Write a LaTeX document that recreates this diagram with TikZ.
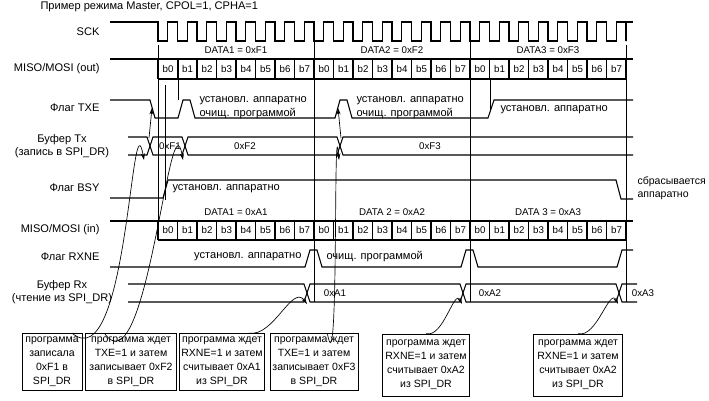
\documentclass[tikz,border=0pt]{standalone}
\usepackage{fontspec}
\setmainfont{Liberation Sans}
\usetikzlibrary{arrows.meta}
\begin{document}
\begin{tikzpicture}[x=0.75pt,y=-0.75pt,line width=0.8pt,
  lbl/.style={font=\fontsize{8.3}{10}\selectfont,inner sep=0pt},
  sm/.style={font=\fontsize{7.3}{9}\selectfont,inner sep=0pt},
  thin/.style={line width=0.45pt},
  box/.style={draw,line width=0.6pt,align=center,inner sep=0.5pt,font=\fontsize{7.9}{10.6}\selectfont},
  arr/.style={line width=0.5pt,-{Stealth[length=5pt,width=3pt]}}]
\useasboundingbox (0,0) rectangle (709,400);
\fill[white] (0,0) rectangle (709,400);
\node[lbl,anchor=west] (title) at (40,7) {Пример режима Master, CPOL=1, CPHA=1};
% labels
\node[lbl,anchor=east] (lsck) at (100,32) {SCK};
\node[lbl,anchor=east] (lout) at (100,69) {MISO/MOSI (out)};
\node[lbl,anchor=east] (ltxe) at (100,108) {Флаг TXE};
\node[lbl,align=center] (ltx) at (62,146) {Буфер Tx\\(запись в SPI\_DR)};
\node[lbl,anchor=east] (lbsy) at (100,188) {Флаг BSY};
\node[lbl,anchor=east] (lin) at (100,230) {MISO/MOSI (in)};
\node[lbl,anchor=east] (lrx) at (100,257) {Флаг RXNE};
\node[lbl,align=center] (lrxb) at (62,292) {Буфер Rx\\(чтение из SPI\_DR)};
% SCK
\draw (110,22) -- (158,22) -- (158,41)
  \foreach \i in {1,...,24}{ -- ++(9.75,0) -- ++(0,-19) -- ++(9.75,0) -- ++(0,19)}
  -- ++(0,-19) -- ++(7,0);
% vertical guides
\draw[thin] (158,45) -- (158,240);
\draw[thin] (165,85) -- (165,200);
\draw[thin] (178,59) -- (178,100);
\draw[thin] (314,25) -- (314,302);
\draw[thin] (470,25) -- (470,302);
\draw[thin] (490,79) -- (490,110);
\draw[thin] (626,45) -- (626,302);
% bit rows
\foreach \yt/\yb in {59/79, 221/240}{
  \draw (110,\yt) -- (633,\yt);
  \draw (158,\yb) -- (626,\yb);
  \foreach \i in {0,...,24}{\draw (158+\i*19.5,\yt) -- (158+\i*19.5,\yb);}
  \foreach \i in {0,...,23}{
    \pgfmathtruncatemacro\b{mod(\i,8)}
    \node[sm] at (168+\i*19.5,{(\yt+\yb)/2}) {b\b};}
}
\node[sm] (d1) at (236,50) {DATA1 = 0xF1};
\node[sm] (d2) at (392,50) {DATA2 = 0xF2};
\node[sm] (d3) at (548,50) {DATA3 = 0xF3};
\node[sm] (a1) at (236,212) {DATA1 = 0xA1};
\node[sm] (a2) at (392,212) {DATA 2 = 0xA2};
\node[sm] (a3) at (548,212) {DATA 3 = 0xA3};
% TXE
\draw (110,100) -- (150,100) -- (155,118) -- (178,118) -- (183,100) -- (190,100) -- (195,118) -- (335,118) -- (340,100) -- (347,100) -- (352,118) -- (488,118) -- (494,100) -- (633,100);
\node[lbl,anchor=west] (t1) at (199,101) {установл. аппаратно};
\node[lbl,anchor=west] (t2) at (199,114) {очищ. программой};
\node[lbl,anchor=west] (t3) at (356,101) {установл. аппаратно};
\node[lbl,anchor=west] (t4) at (356,114) {очищ. программой};
\node[lbl,anchor=west] (t5) at (500,110) {установл. аппаратно};
% Tx buffer
\draw (128,137) -- (147,137) -- (153,155) -- (182,155) -- (188,137) -- (337,137) -- (343,155) -- (633,155);
\draw (128,155) -- (147,155) -- (153,137) -- (182,137) -- (188,155) -- (337,155) -- (343,137) -- (633,137);
\node[sm] (f1) at (170,146) {0xF1};
\node[sm] (f2) at (245,146) {0xF2};
\node[sm] (f3) at (430,146) {0xF3};
% BSY
\draw (110,198) -- (163,198) -- (168,180) -- (616,180) -- (621,199) -- (633,199);
\node[lbl,anchor=west] (bs1) at (172,189) {установл. аппаратно};
\node[anchor=west,align=left,inner sep=0pt,font=\fontsize{7.9}{10}\selectfont] (bs2) at (637,188) {сбрасывается\\аппаратно};
% RXNE
\draw (110,267) -- (305,267) -- (310,250) -- (317,250) -- (322,267) -- (461,267) -- (466,250) -- (473,250) -- (478,267) -- (617,267) -- (622,250) -- (633,250);
\node[lbl,anchor=east] (r1) at (302,257) {установл. аппаратно};
\node[lbl,anchor=west] (r2) at (326,257) {очищ. программой};
% Rx buffer
\draw (128,284) -- (304,284) -- (310,302) -- (460,302) -- (466,284) -- (616,284) -- (622,302) -- (637,302);
\draw (128,302) -- (304,302) -- (310,284) -- (460,284) -- (466,302) -- (616,302) -- (622,284) -- (637,284);
\node[sm] (x1) at (335,293) {0xA1};
\node[sm] (x2) at (490,293) {0xA2};
\node[sm] (x3) at (643,293) {0xA3};
% boxes
\node[box,minimum width={60*0.75pt},minimum height={57*0.75pt}] (b1) at (52,362) {программа\\записала\\0xF1 в\\SPI\_DR};
\node[box,minimum width={91*0.75pt},minimum height={57*0.75pt}] (b2) at (131,362) {программа ждет\\TXE=1 и затем\\записывает 0xF2\\в SPI\_DR};
\node[box,minimum width={85*0.75pt},minimum height={57*0.75pt}] (b3) at (222,362) {программа ждет\\RXNE=1 и затем\\считывает 0xA1\\из SPI\_DR};
\node[box,minimum width={88*0.75pt},minimum height={57*0.75pt}] (b4) at (314,362) {программа ждет\\TXE=1 и затем\\записывает 0xF3\\в SPI\_DR};
\node[box,minimum width={87*0.75pt},minimum height={62*0.75pt}] (b5) at (426,365) {программа ждет\\RXNE=1 и затем\\считывает 0xA2\\из SPI\_DR};
\node[box,minimum width={89*0.75pt},minimum height={62*0.75pt}] (b6) at (578,365) {программа ждет\\RXNE=1 и затем\\считывает 0xA2\\из SPI\_DR};
% arrow targets
\coordinate (e1) at (144,160);
\coordinate (e1a) at (149,138);
\coordinate (e1b) at (152,108);
\coordinate (e2) at (183,160);
\coordinate (e3) at (307,304);
\coordinate (e4) at (339,160);
\coordinate (e4a) at (341,138);
\coordinate (e4b) at (338,108);
\coordinate (e5) at (462,304);
\coordinate (e6) at (618,304);
\draw[arr] ([xshift=15]b1.north) to[out=-40,in=100] (e1);
\draw[arr] ([xshift=-20]b2.north) to[out=-55,in=100] (e2);
\draw[arr] ([xshift=20]b3.north) to[out=-10,in=125] (e3);
\draw[arr] ([xshift=10]b4.north) to[out=-80,in=95] (e4);
\draw[arr] (e1a) -- (e1b);
\draw[arr] (e4a) -- (e4b);
\draw[arr] (b5.north) to[out=-15,in=115] (e5);
\draw[arr] (b6.north) to[out=-15,in=115] (e6);
\end{tikzpicture}
\end{document}
